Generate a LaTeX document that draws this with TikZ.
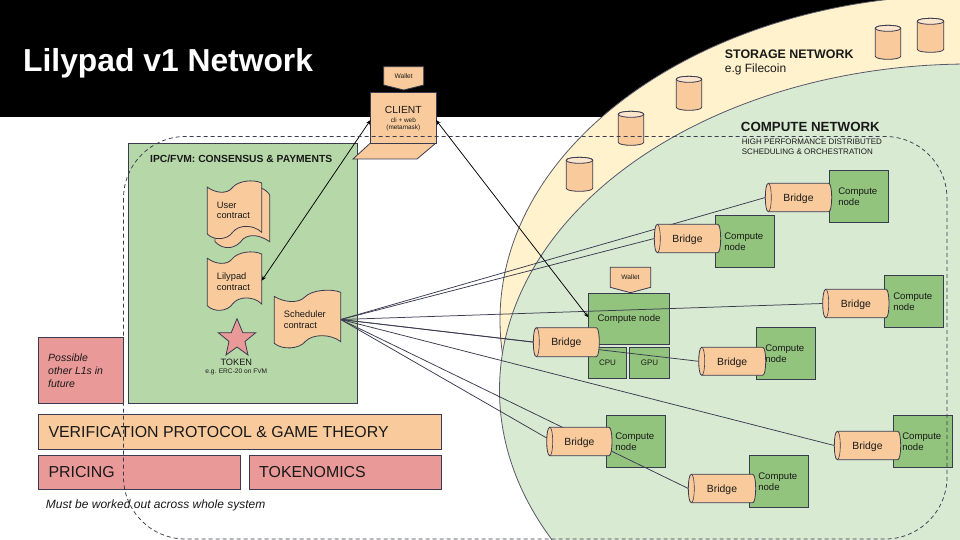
\documentclass[tikz,border=0pt]{standalone}
\usepackage{fontspec}
\setmainfont{Liberation Sans}
\usetikzlibrary{arrows.meta}
\pgfdeclarelayer{base}\pgfdeclarelayer{conn}\pgfdeclarelayer{top}
\pgfsetlayers{base,conn,main,top}
\definecolor{ink}{HTML}{3A3A50}
\definecolor{peach}{HTML}{F9CB9C}
\definecolor{peachlite}{HTML}{FCE5CD}
\definecolor{rose}{HTML}{EA9999}
\definecolor{leaf}{HTML}{B6D7A8}
\definecolor{moss}{HTML}{93C47D}
\definecolor{pale}{HTML}{D9EAD3}
\definecolor{cream}{HTML}{FFF2CC}
\newcommand{\fs}[1]{\fontsize{#1}{#1}\selectfont}
\newcommand{\fsl}[2]{\fontsize{#1}{#2}\selectfont}
\tikzset{
  shapeline/.style={draw=ink,line width=0.8pt},
  conline/.style={draw=ink,line width=0.75pt},
  bidir/.style={draw=black,line width=0.75pt,{Stealth[length=5pt,width=4pt]}-{Stealth[length=5pt,width=4pt]}},
  boxlabel/.style={inner sep=0pt,anchor=west,text=black!90},
  widebox/.style={shapeline,inner sep=0pt,anchor=north west,align=left},
}
% named peach bridge: name, x0, y0, x1, y1
\newcommand{\bridgenode}[5]{%
  \pgfmathsetmacro{\bmx}{#2+3}\pgfmathsetmacro{\bnx}{#4-3}%
  \pgfmathsetmacro{\bcx}{(#2+#4)/2}\pgfmathsetmacro{\bcy}{(#3+#5)/2}%
  \pgfmathsetmacro{\bw}{#4-#2}\pgfmathsetmacro{\bh}{#5-#3}%
  \pgfmathsetmacro{\bax}{#4+1}\pgfmathsetmacro{\bbx}{#2+7}\pgfmathsetmacro{\bdx}{#2-1}%
  \path[shapeline,fill=peach] (\bmx,#3) -- (\bnx,#3) .. controls (\bax,#3) and (\bax,#5) .. (\bnx,#5) -- (\bmx,#5) .. controls (\bdx,#5) and (\bdx,#3) .. (\bmx,#3) -- cycle;
  \path[shapeline,line width=0.6pt] (\bmx,#3) .. controls (\bbx,#3) and (\bbx,#5) .. (\bmx,#5);
  \node[inner sep=0pt,outer sep=0pt,minimum width=\bw pt,minimum height=\bh pt,text=black!90,text depth=0pt,font=\fs{10.4}] (#1) at (\bcx,\bcy) {Bridge};
}
% compute box: name, x0, y0, x1, y1
\newcommand{\computenode}[5]{%
  \pgfmathsetmacro{\bcx}{(#2+#4)/2}\pgfmathsetmacro{\bcy}{(#3+#5)/2+0.6}%
  \begin{pgfonlayer}{base}
  \fill[moss,draw=ink,line width=0.8pt] (#2,#3) rectangle (#4,#5);
  \node[inner sep=0pt,text width=41pt,align=left,text=black!90,font=\fsl{9.6}{11}] (#1) at ({#2+9+20.5},\bcy) {Compute\\node};
  \end{pgfonlayer}
}
% storage cylinder: name, x0, y0, x1, y1
\newcommand{\storenode}[5]{%
  \pgfmathsetmacro{\scx}{(#2+#4)/2}\pgfmathsetmacro{\srx}{(#4-#2)/2}%
  \pgfmathsetmacro{\sa}{#3+3}\pgfmathsetmacro{\sb}{#5-3}\pgfmathsetmacro{\st}{#3+6}%
  \pgfmathsetmacro{\sk}{#5+1}\pgfmathsetmacro{\skk}{#3-1}\pgfmathsetmacro{\su}{#3+7}%
  \path[shapeline,fill=peach] (#2,\sa) .. controls (#2,\skk) and (#4,\skk) .. (#4,\sa) -- (#4,\sb) .. controls (#4,\sk) and (#2,\sk) .. (#2,\sb) -- cycle;
  \path[shapeline,fill=peachlite] (#2,\sa) .. controls (#2,\skk) and (#4,\skk) .. (#4,\sa) .. controls (#4,\su) and (#2,\su) .. (#2,\sa) -- cycle;
  \coordinate (#1) at (\scx,\sa);
}
% wave sheet in unit coordinates
\newcommand{\sheetpath}{(0,.11) .. controls (.14,.21) and (.36,.24) .. (.46,.12) .. controls (.56,.0) and (.85,-.03) .. (1,.04) -- (1,.886) .. controls (.85,.75) and (.58,.75) .. (.47,.88) .. controls (.37,1.02) and (.12,1.03) .. (0,.915) -- cycle}
\begin{document}
\begin{tikzpicture}[x=1pt,y=-1pt]
\useasboundingbox (0,0) rectangle (960,540);
\begin{pgfonlayer}{base}
  \fill[white] (0,0) rectangle (960,540);
  \fill[black] (0,0) rectangle (960,117);
  \begin{scope}
    \clip (0,0) rectangle (960,540);
    \draw[fill=cream,draw=ink!85,line width=0.8pt] (965,320) ellipse [x radius=465,y radius=325];
    \draw[fill=pale,draw=ink!85,line width=0.8pt] (970,390) ellipse [x radius=470.5,y radius=326];
  \end{scope}
  % left panels
  \fill[leaf,draw=ink,line width=0.8pt] (128.5,143.5) rectangle (357.5,403.5);
  \node[widebox,fill=rose,minimum width=85pt,minimum height=66pt] (future) at (38.3,337.3) {};
  \node[widebox,fill=peach,minimum width=402.4pt,minimum height=35pt] (verif) at (38.3,414.3) {};
  \node[widebox,fill=rose,minimum width=201.4pt,minimum height=34.6pt] (pricing) at (38.3,454.7) {};
  \node[widebox,fill=rose,minimum width=191.4pt,minimum height=34.6pt] (tokenomics) at (249.3,454.7) {};
\end{pgfonlayer}
% texts
\node[inner sep=0pt,anchor=west,text=white,font=\fs{31.8}\bfseries] (title) at (23,63.5) {Lilypad v1 Network};
\node[boxlabel,font=\fs{10.3}\bfseries] (ipc) at (150,158.7) {IPC/FVM: CONSENSUS \& PAYMENTS};
\node[boxlabel,align=left,font=\fsl{10.5}{13}\itshape] (futuretext) at (48,370.3) {Possible\\other L1s in\\future};
\node[boxlabel,font=\fs{15.9}] (veriftext) at (48.3,432) {VERIFICATION PROTOCOL \& GAME THEORY};
\node[boxlabel,font=\fs{15.9}] (pricetext) at (48.3,472) {PRICING};
\node[boxlabel,font=\fs{15.9}] (toktext) at (259,472) {TOKENOMICS};
\node[boxlabel,font=\fs{12}\itshape] (mustbe) at (45.7,505.7) {Must be worked out across whole system};
\node[boxlabel,font=\fs{12.4}\bfseries] (storage) at (724.7,54) {STORAGE NETWORK};
\node[boxlabel,font=\fs{12}] (filecoin) at (724.7,69) {e.g Filecoin};
\node[boxlabel,font=\fs{13.3}\bfseries] (compute) at (740.7,127) {COMPUTE NETWORK};
\node[boxlabel,align=left,font=\fsl{8}{9.4}] (hpc) at (741.7,146.7) {HIGH PERFORMANCE DISTRIBUTED\\SCHEDULING \& ORCHESTRATION};
% storage
\storenode{s1}{917.3}{18.3}{943.7}{52.3}
\storenode{s2}{875.3}{25.3}{900.7}{59.3}
\storenode{s3}{676.3}{76.3}{701.7}{110.3}
\storenode{s4}{618.3}{111.3}{643.7}{145.3}
\storenode{s5}{566.3}{157.3}{592.7}{191.3}
% client
\path[shapeline,fill=peach] (370.5,143) -- (436,143) -- (417,159) -- (353,159) -- cycle;
\path[shapeline,fill=peach] (370.5,92.5) rectangle (436,143);
\coordinate (clientw) at (370.5,120);
\coordinate (cliente) at (436,120);
\node[inner sep=0pt,text=black!90,font=\fs{10.3}] (clientlab) at (403.3,110) {CLIENT};
\node[inner sep=0pt,text=black!90,align=center,font=\fsl{6.4}{7.6}] (clientsub) at (403.3,124.5) {cli + web\\(metamask)};
\path[shapeline,fill=peach] (383.7,66.7) -- (423.7,66.7) -- (423.7,85) -- (403.7,90) -- (383.7,85) -- cycle;
\node[inner sep=0pt,text=black!90,font=\fs{6.6}] (walleta) at (403.7,76) {Wallet};
% contracts
\path[shapeline,fill=peach] (261,188) .. controls (265,189.5) and (268,192) .. (269.7,195) -- (269.7,241.7) .. controls (260,235) and (250,233.5) .. (243,239) .. controls (236,249) and (224,251) .. (215,241.7) -- (215,200) -- cycle;
\begin{scope}[shift={(207.3,180.7)},xscale=54.4,yscale=58.3]
  \path[shapeline,fill=peach] \sheetpath;
\end{scope}
\node[boxlabel,align=left,font=\fsl{9.3}{10.8}] (usertext) at (216.7,210.3) {User\\contract};
\begin{scope}[shift={(207.3,251.7)},xscale=54.4,yscale=59]
  \path[shapeline,fill=peach] \sheetpath;
\end{scope}
\node[boxlabel,align=left,font=\fsl{9.3}{11}] (lilytext) at (216.7,281.5) {Lilypad\\contract};
\begin{scope}[shift={(274.3,290)},xscale=66.4,yscale=58.3]
  \path[shapeline,fill=peach] \sheetpath;
\end{scope}
\node[boxlabel,align=left,font=\fsl{9.3}{11}] (schedtext) at (283.7,319.2) {Scheduler\\contract};
\coordinate (sched) at (340.7,319.5);
\coordinate (lily) at (261.7,280.7);
% token
\path[shapeline,fill=rose] (237,318.7) -- (242.8,332.7) -- (255.7,332.7) -- (245,341.5) -- (248,355) -- (237,347) -- (226,355) -- (229,341.5) -- (218.3,332.7) -- (231.2,332.7) -- cycle;
\node[inner sep=0pt,text=black!90,font=\fs{9.2}] (token) at (236.3,362.3) {TOKEN};
\node[inner sep=0pt,text=black!90,font=\fs{6.6}] (erc) at (236.3,372.3) {e.g. ERC-20 on FVM};
% main compute node
\begin{pgfonlayer}{base}
  \node[fill=moss,draw=ink,line width=0.8pt,inner sep=0pt,minimum width=81.4pt,minimum height=51pt,text=black!90,font=\fs{9.6}] (mainc) at (629,318.8) {Compute node};
  \node[fill=moss,draw=ink,line width=0.8pt,inner sep=0pt,minimum width=38.4pt,minimum height=30.6pt,text=black!90,font=\fs{8}] (cpu) at (607.5,363) {CPU};
  \node[fill=moss,draw=ink,line width=0.8pt,inner sep=0pt,minimum width=40.4pt,minimum height=30.6pt,text=black!90,font=\fs{8}] (gpu) at (649.5,363) {GPU};
\end{pgfonlayer}
\path[shapeline,fill=peach] (610.3,267.3) -- (650.7,267.3) -- (650.7,287.3) -- (630.5,292.7) -- (610.3,287.3) -- cycle;
\node[inner sep=0pt,text=black!90,font=\fs{6.6}] (walletb) at (630.5,277.3) {Wallet};
\coordinate (maincw) at (588.3,317.3);
% workers
\computenode{c1}{829.3}{170}{888.7}{222.7}
\computenode{c2}{715.3}{215.3}{774.7}{267.7}
\computenode{c3}{884.3}{275.3}{943.7}{327.3}
\computenode{c4}{756.3}{327.3}{815.7}{379.3}
\computenode{c5}{606.3}{415.3}{665.7}{467.7}
\computenode{c6}{749.3}{455.3}{808.7}{507.3}
\computenode{c7}{893.3}{415.3}{952.7}{467.7}
\bridgenode{b1}{765.3}{183.3}{831.7}{211.7}
\bridgenode{b2}{654.3}{224.3}{720.7}{252.7}
\bridgenode{b3}{822.7}{289.3}{889}{317.7}
\bridgenode{b4}{698.7}{347.3}{765.7}{375.3}
\bridgenode{b5}{546.7}{427.3}{612}{455.7}
\bridgenode{b6}{688.3}{474.3}{755.7}{502.7}
\bridgenode{b7}{834.3}{431.3}{900.7}{459.7}
\bridgenode{b0}{533.3}{327.7}{599.3}{356.7}
\begin{pgfonlayer}{conn}
  \draw[conline] (sched) -- (b1.west);
  \draw[conline] (sched) -- (b2.west);
  \draw[conline] (sched) -- (b3.west);
  \draw[conline] (sched) -- (b0.west);
  \draw[conline] (sched) -- (b4.west);
  \draw[conline] (sched) -- (b7.west);
  \draw[conline] (sched) -- ([yshift=3.5pt]b5.west);
  \draw[conline] (sched) -- (b6.west);
\end{pgfonlayer}
\begin{pgfonlayer}{top}
  \draw[bidir] (clientw) -- (lily);
  \draw[bidir] (cliente) -- (maincw);
  \draw[draw=ink,line width=0.75pt,dash pattern=on 4pt off 3pt,rounded corners=62pt] (123.5,136.5) rectangle (947,539);
\end{pgfonlayer}
\end{tikzpicture}
\end{document}
